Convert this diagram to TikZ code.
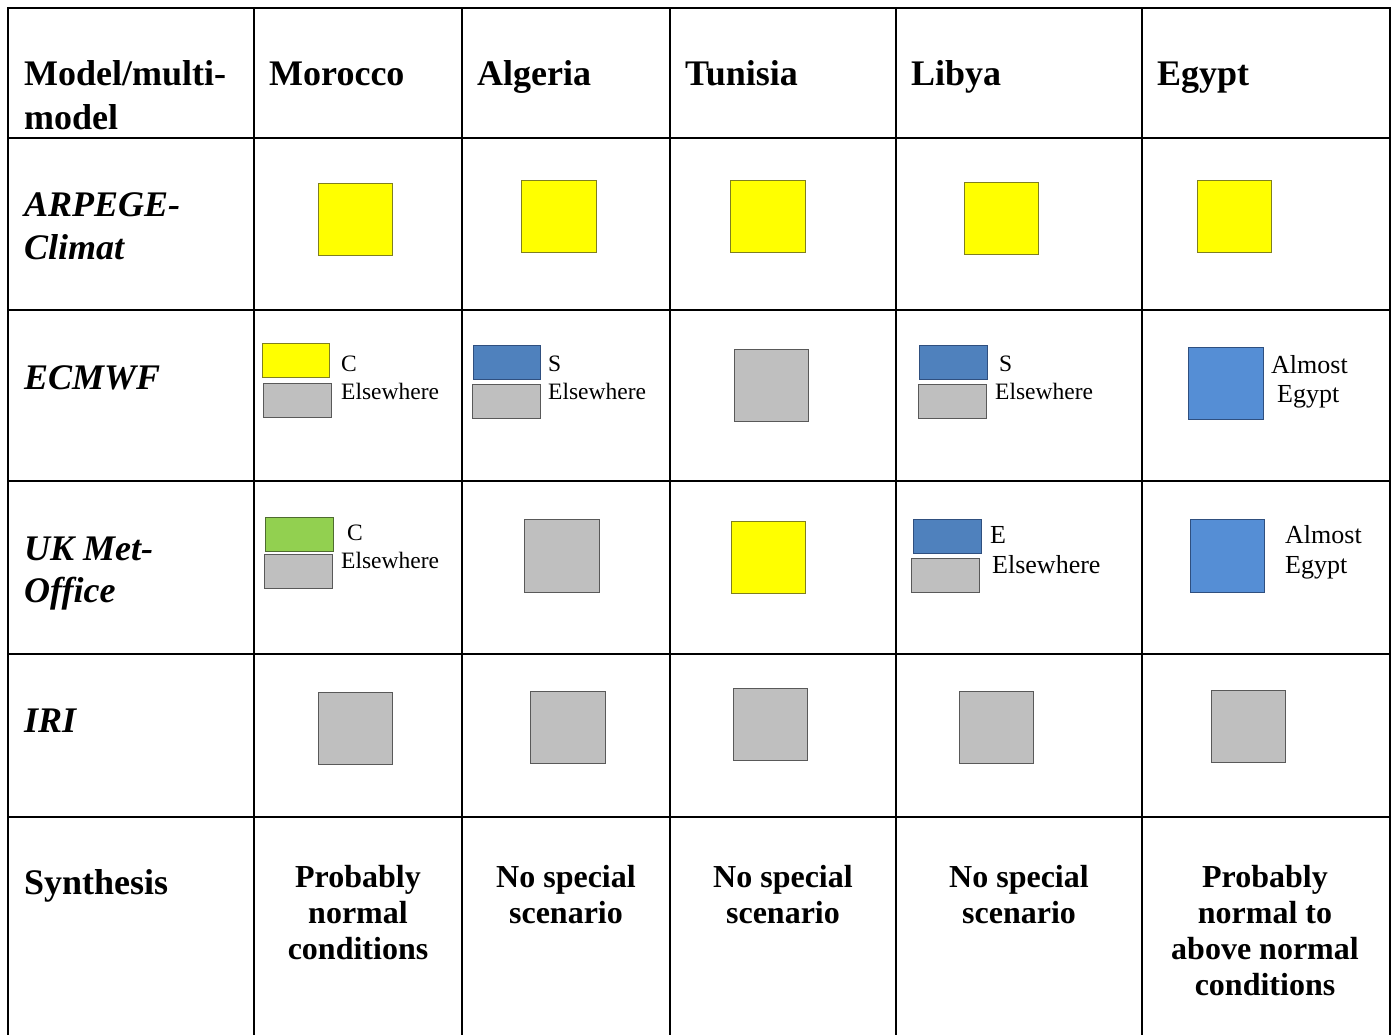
\documentclass[tikz,border=0pt]{standalone}
\usepackage{fontspec}
\setmainfont{Liberation Serif}
\begin{document}
\begin{tikzpicture}[x=1pt,y=-1pt,
  grid/.style={line width=2pt,black},
  hdr/.style={anchor=base west,inner sep=0pt,font=\fontsize{36}{44}\selectfont\bfseries},
  rowl/.style={anchor=base west,inner sep=0pt,font=\fontsize{36}{42}\selectfont\bfseries\itshape},
  syn/.style={anchor=base,inner sep=0pt,font=\fontsize{32}{36}\selectfont\bfseries},
  small/.style={anchor=base west,inner sep=0pt,font=\fontsize{23.5}{28}\selectfont},
  mid/.style={anchor=base west,inner sep=0pt,font=\fontsize{26}{30}\selectfont},
  sw/.style={anchor=north west,inner sep=0pt,outer sep=0pt,line width=0.8pt},
  yel/.style={sw,fill=yellowfill,draw=yellowedge},
  gry/.style={sw,fill=grayfill,draw=grayedge},
  blu/.style={sw,fill=bluefill,draw=blueedge},
  lbl/.style={sw,fill=lbluefill,draw=blueedge},
  grn/.style={sw,fill=greenfill,draw=greenedge}
]
\definecolor{yellowfill}{HTML}{FFFF00}
\definecolor{yellowedge}{HTML}{7F7F20}
\definecolor{grayfill}{HTML}{BFBFBF}
\definecolor{grayedge}{HTML}{595959}
\definecolor{bluefill}{HTML}{4F81BD}
\definecolor{lbluefill}{HTML}{558ED5}
\definecolor{blueedge}{HTML}{2F4F7F}
\definecolor{greenfill}{HTML}{92D050}
\definecolor{greenedge}{HTML}{4E6B30}
\useasboundingbox[fill=white] (0,0) rectangle (1392,1035);
% grid
\foreach \x in {8,254,462,670,896,1142,1390} \draw[grid] (\x,8) -- (\x,1035);
\foreach \y in {8,138,310,481,654,817} \draw[grid] (7,\y) -- (1391,\y);
% header
\node[hdr] (h0a) at (24,86) {Model/multi-};
\node[hdr] (h0b) at (24,130) {model};
\node[hdr] (h1) at (269,86) {Morocco};
\node[hdr] (h2) at (477,86) {Algeria};
\node[hdr] (h3) at (685,86) {Tunisia};
\node[hdr] (h4) at (911,86) {Libya};
\node[hdr] (h5) at (1157,86) {Egypt};
% row labels
\node[rowl] (r1a) at (24,217) {ARPEGE-};
\node[rowl] (r1b) at (24,259) {Climat};
\node[rowl] (r2) at (24,389) {ECMWF};
\node[rowl] (r3a) at (24,560) {UK Met-};
\node[rowl] (r3b) at (24,602) {Office};
\node[rowl] (r4) at (24,732) {IRI};
\node[hdr] (r5) at (24,894) {Synthesis};
% ARPEGE row
\node[yel,minimum width=74pt,minimum height=72pt] (a1) at (318,183) {};
\node[yel,minimum width=75pt,minimum height=72pt] (a2) at (521,180) {};
\node[yel,minimum width=75pt,minimum height=72pt] (a3) at (730,180) {};
\node[yel,minimum width=74pt,minimum height=72pt] (a4) at (964,182) {};
\node[yel,minimum width=74pt,minimum height=72pt] (a5) at (1197,180) {};
% ECMWF row
\node[yel,minimum width=67pt,minimum height=34pt] (e1a) at (262,343) {};
\node[gry,minimum width=68pt,minimum height=34pt] (e1b) at (263,383) {};
\node[small] (e1t1) at (341,371) {C};
\node[small] (e1t2) at (341,399) {Elsewhere};
\node[blu,minimum width=67pt,minimum height=34pt] (e2a) at (473,345) {};
\node[gry,minimum width=68pt,minimum height=34pt] (e2b) at (472,384) {};
\node[small] (e2t1) at (548,371) {S};
\node[small] (e2t2) at (548,399) {Elsewhere};
\node[gry,minimum width=74pt,minimum height=72pt] (e3) at (734,349) {};
\node[blu,minimum width=68pt,minimum height=34pt] (e4a) at (919,345) {};
\node[gry,minimum width=68pt,minimum height=34pt] (e4b) at (918,384) {};
\node[small] (e4t1) at (999,371) {S};
\node[small] (e4t2) at (995,399) {Elsewhere};
\node[lbl,minimum width=75pt,minimum height=72pt] (e5) at (1188,347) {};
\node[mid] (e5t1) at (1271,373) {Almost};
\node[mid] (e5t2) at (1277,402) {Egypt};
% UK Met Office row
\node[grn,minimum width=68pt,minimum height=34pt] (u1a) at (265,517) {};
\node[gry,minimum width=68pt,minimum height=34pt] (u1b) at (264,554) {};
\node[small] (u1t1) at (347,540) {C};
\node[small] (u1t2) at (341,568) {Elsewhere};
\node[gry,minimum width=75pt,minimum height=73pt] (u2) at (524,519) {};
\node[yel,minimum width=74pt,minimum height=72pt] (u3) at (731,521) {};
\node[blu,minimum width=68pt,minimum height=34pt] (u4a) at (913,519) {};
\node[gry,minimum width=68pt,minimum height=34pt] (u4b) at (911,558) {};
\node[mid] (u4t1) at (990,543) {E};
\node[mid] (u4t2) at (992,573) {Elsewhere};
\node[lbl,minimum width=74pt,minimum height=73pt] (u5) at (1190,519) {};
\node[mid] (u5t1) at (1285,543) {Almost};
\node[mid] (u5t2) at (1285,573) {Egypt};
% IRI row
\node[gry,minimum width=74pt,minimum height=72pt] (i1) at (318,692) {};
\node[gry,minimum width=75pt,minimum height=72pt] (i2) at (530,691) {};
\node[gry,minimum width=74pt,minimum height=72pt] (i3) at (733,688) {};
\node[gry,minimum width=74pt,minimum height=72pt] (i4) at (959,691) {};
\node[gry,minimum width=74pt,minimum height=72pt] (i5) at (1211,690) {};
% Synthesis row
\node[syn] (s1a) at (358,887) {Probably};
\node[syn] (s1b) at (358,923) {normal};
\node[syn] (s1c) at (358,959) {conditions};
\node[syn] (s2a) at (566,887) {No special};
\node[syn] (s2b) at (566,923) {scenario};
\node[syn] (s3a) at (783,887) {No special};
\node[syn] (s3b) at (783,923) {scenario};
\node[syn] (s4a) at (1019,887) {No special};
\node[syn] (s4b) at (1019,923) {scenario};
\node[syn] (s5a) at (1265,887) {Probably};
\node[syn] (s5b) at (1265,923) {normal to};
\node[syn] (s5c) at (1265,959) {above normal};
\node[syn] (s5d) at (1265,995) {conditions};
\end{tikzpicture}
\end{document}
